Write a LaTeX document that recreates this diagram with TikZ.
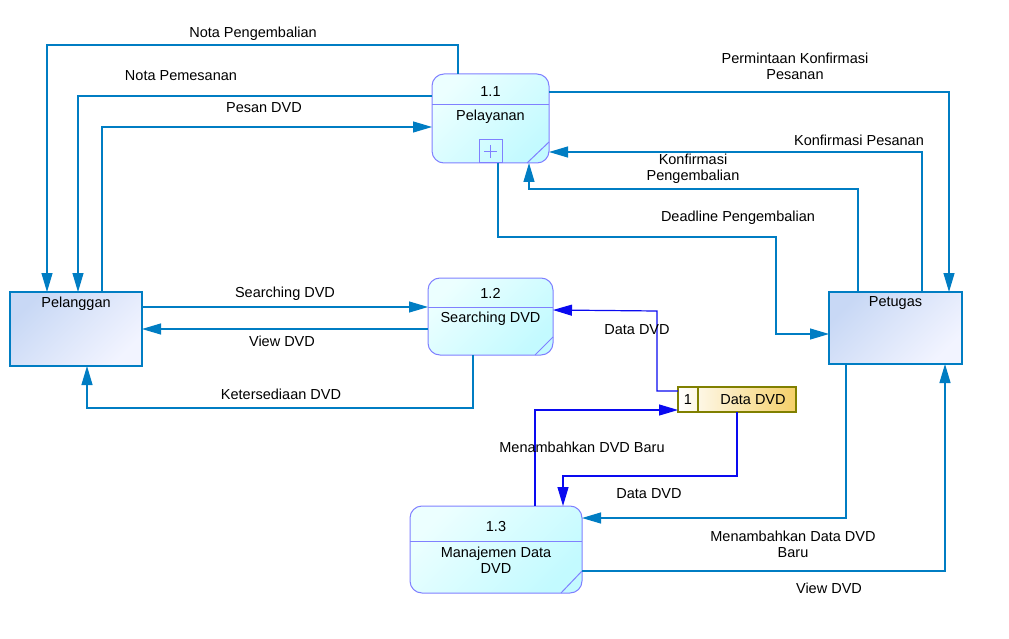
\documentclass[tikz,border=0pt]{standalone}
\usepackage{fontspec}
\setmainfont{Liberation Sans}
\usetikzlibrary{arrows.meta}
\definecolor{flowc}{RGB}{0,125,195}
\definecolor{dflowc}{RGB}{10,10,240}
\definecolor{procc}{RGB}{128,128,255}
\definecolor{procA}{RGB}{236,255,255}
\definecolor{procB}{RGB}{195,250,255}
\definecolor{entA}{RGB}{200,216,245}
\definecolor{entB}{RGB}{242,244,255}
\definecolor{dsc}{RGB}{128,128,0}
\definecolor{dsB}{RGB}{245,208,105}
\begin{document}
\begin{tikzpicture}[x=1pt,y=-1pt,font=\fontsize{14.5}{16}\selectfont,
  flow/.style={draw=flowc,line width=1.2pt,-{Triangle[length=19pt,width=11pt]}},
  dflow/.style={draw=dflowc,line width=1.2pt,-{Triangle[length=19pt,width=11pt]}},
  proc/.style={draw=procc,line width=1pt,rounded corners=12pt,top color=procA,bottom color=procB,shading angle=45,inner sep=0pt,outer sep=0pt},
  procline/.style={draw=procc,line width=1pt},
  ent/.style={draw=flowc,line width=1.2pt,top color=entA,bottom color=entB,shading angle=45,inner sep=0pt,outer sep=0pt},
  store/.style={draw=dsc,line width=1.2pt,left color=white,right color=dsB,inner sep=0pt,outer sep=0pt},
  lbl/.style={align=center,inner sep=0pt,text=black}]
\useasboundingbox[fill=white] (0,0) rectangle (1009,639);

% processes
\node[proc,minimum width=117pt,minimum height=89pt] (p11) at (490.5,118.5) {};
\node[proc,minimum width=125pt,minimum height=77pt] (p12) at (490.5,316.5) {};
\node[proc,minimum width=172pt,minimum height=87pt] (p13) at (496,549.5) {};
\draw[procline] (432,105) -- (549,105);
\draw[procline] (428,307) -- (553,307);
\draw[procline] (410,541) -- (582,541);
\draw[procline] (549,142) -- (527,163);
\draw[procline] (553,337) -- (535,355);
\draw[procline] (582,571) -- (561,593);
\draw[procline] (479,163) rectangle (502,140);
\draw[procline,line width=0.8pt] (484,151.5) -- (497,151.5) (490.5,145) -- (490.5,158);
\node[lbl] (n11) at (490.5,92) {1.1};
\node[lbl] (t11) at (490.5,117) {Pelayanan};
\node[lbl] (n12) at (490.5,293) {1.2};
\node[lbl] (t12) at (490.5,319) {Searching DVD};
\node[lbl] (n13) at (496,527) {1.3};
\node[lbl] (t13) at (496,560) {Manajemen Data\\DVD};

% entities
\node[ent,minimum width=132pt,minimum height=74pt] (pel) at (76,329) {};
\node[ent,minimum width=133pt,minimum height=72pt] (pet) at (895.5,328) {};
\node[lbl] (tpel) at (76,304) {Pelanggan};
\node[lbl] (tpet) at (895.5,303) {Petugas};

% data store
\node[store,minimum width=118pt,minimum height=25pt] (ds) at (737,399.5) {};
\draw[dsc,line width=1.2pt] (698,387) -- (698,412);
\node[lbl] (nds) at (688,399.5) {1};
\node[lbl] (tds) at (753,399.5) {Data DVD};

% flows
\draw[flow] (p11.north -| 458,0) |- (47,45) -- (pel.north -| 47,0);
\draw[flow] (p11.west |- 0,96) -| (pel.north -| 78,0);
\draw[flow] (pel.north -| 102,0) |- (p11.west |- 0,127);
\draw[flow] (p11.east |- 0,92) -| (pet.north -| 949,0);
\draw[flow] (pet.north -| 922,0) |- (p11.east |- 0,152);
\draw[flow] (pet.north -| 858,0) |- (529,189) -- (p11.south -| 529,0);
\draw[flow] (p11.south -| 498,0) |- (776,237) |- (pet.west |- 0,334);
\draw[flow] (pel.east |- 0,307) -- (p12.west |- 0,307);
\draw[flow] (p12.west |- 0,329) -- (pel.east |- 0,329);
\draw[flow] (p12.south -| 473,0) |- (87,408) -- (pel.south -| 87,0);
\draw[dflow] (ds.west |- 0,391) -| (657,311) -- (p12.east |- 0,310);
\draw[dflow] (p13.north -| 535,0) |- (ds.west |- 0,410);
\draw[dflow] (ds.south -| 737,0) |- (563,476) -- (p13.north -| 563,0);
\draw[flow] (pet.south -| 846,0) |- (p13.east |- 0,518);
\draw[flow] (p13.east |- 0,571) -| (pet.south -| 945,0);

% flow labels
\node[lbl] (l1) at (253,34) {Nota Pengembalian};
\node[lbl] (l2) at (181,76) {Nota Pemesanan};
\node[lbl] (l3) at (264,108) {Pesan DVD};
\node[lbl] (l4) at (795,66) {Permintaan Konfirmasi\\Pesanan};
\node[lbl] (l5) at (859,140) {Konfirmasi Pesanan};
\node[lbl] (l6) at (693,169) {Konfirmasi\\Pengembalian};
\node[lbl] (l7) at (738,218) {Deadline Pengembalian};
\node[lbl] (l8) at (285,294) {Searching DVD};
\node[lbl] (l9) at (282,341) {View DVD};
\node[lbl] (l10) at (281,394) {Ketersediaan DVD};
\node[lbl] (l11) at (637,330) {Data DVD};
\node[lbl] (l12) at (582,447) {Menambahkan DVD Baru};
\node[lbl] (l13) at (649,494) {Data DVD};
\node[lbl] (l14) at (793,544) {Menambahkan Data DVD\\Baru};
\node[lbl] (l15) at (829,588) {View DVD};
\end{tikzpicture}
\end{document}
